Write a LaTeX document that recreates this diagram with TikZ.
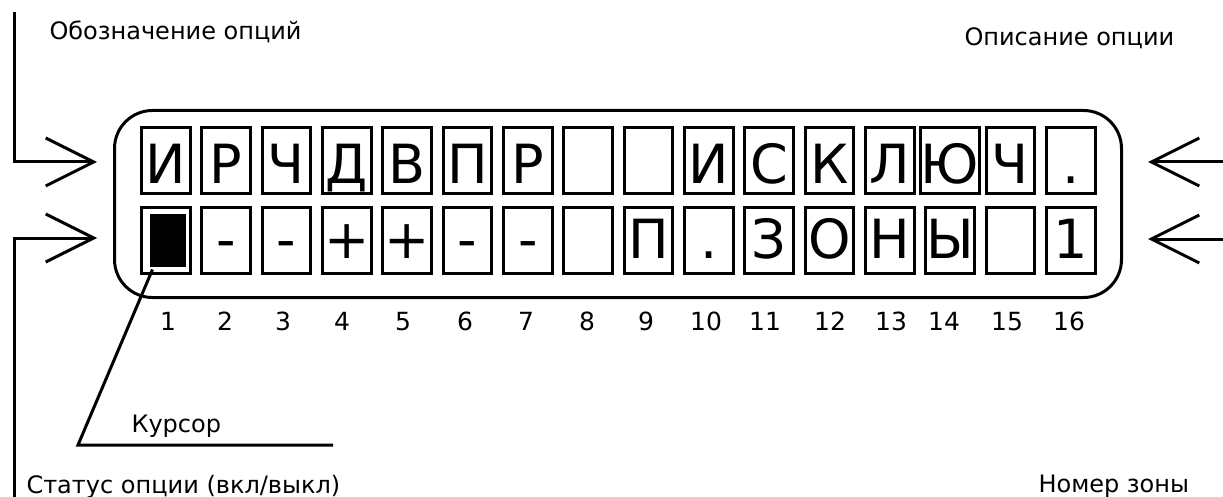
\documentclass[tikz,border=0pt]{standalone}
\usepackage{fontspec}
\setmainfont{DejaVu Sans}
\usetikzlibrary{arrows.meta}
\begin{document}
\begin{tikzpicture}[x=1pt,y=-1pt,line width=3pt,
  cell/.style={draw,line width=3pt,minimum width=48.7pt,minimum height=66pt,inner sep=0pt,font=\fontsize{54}{54}\selectfont},
  rowa/.style={text height=46.2pt,text depth=0pt},
  rowb/.style={text height=35pt,text depth=0pt},
  lbl/.style={inner sep=0pt,font=\fontsize{24}{24}\selectfont},
  num/.style={inner sep=0pt,anchor=base,font=\fontsize{25}{25}\selectfont},
  arr/.style={line width=3pt,-{Straight Barb[length=48pt,width=48pt,line width=3pt]}}]
\useasboundingbox (0,0) rectangle (1223,497);
% panel
\node[draw,rounded corners=38pt,minimum width=1007pt,minimum height=187pt,inner sep=0pt] (panel) at (618,204) {};
% cells
\foreach \t [count=\i] in {И,Р,Ч,Д,В,П,Р,{},{},И,С,К,Л,Ю,Ч,.}
  \node[cell,rowa] (a\i) at ({165.8+(\i-1)*60.33},160.2) {\t};
\foreach \t [count=\i] in {{},-,-,+,+,-,-,{},П,.,З,О,Н,Ы,{},1}
  \node[cell,rowb] (b\i) at ({165.8+(\i-1)*60.33},240.5) {\t};
% cursor block
\node[fill=black,minimum width=36pt,minimum height=53pt,inner sep=0pt] (cursor) at (168,240.5) {};
% column numbers
\foreach \x [count=\i] in {168,225,283,342,403,465,526,587,646,706,765,830,891,944,1007,1069}
  \node[num] (n\i) at (\x,330) {\i};
% labels
\node[lbl,anchor=base west] (lopt) at (48,40) {Обозначение опций};
\node[lbl,anchor=base west] (ldesc) at (963,46) {Описание опции};
\node[lbl,anchor=base west] (lcur) at (130,432) {Курсор};
\node[lbl,anchor=base west] (lstat) at (25,493) {Статус опции (вкл/выкл)};
\node[lbl,anchor=base west] (lzone) at (1037,492) {Номер зоны};
% arrow coordinates
\coordinate (s1) at (14,12);
\coordinate (t1) at (97,162);
\coordinate (s2) at (14,497);
\coordinate (t2) at (97,238);
\coordinate (s3) at (1223,162);
\coordinate (t3) at (1148,162);
\coordinate (s4) at (1223,239);
\coordinate (t4) at (1148,239);
\draw[arr] (s1) |- (t1);
\draw[arr] (s2) |- (t2);
\draw[arr] (s3) -- (t3);
\draw[arr] (s4) -- (t4);
% cursor leader
\coordinate (kb) at (78,445);
\coordinate (ke) at (333,445);
\draw ([xshift=4pt,yshift=-1pt]cursor.south west) -- (kb) -- (ke);
\end{tikzpicture}
\end{document}
